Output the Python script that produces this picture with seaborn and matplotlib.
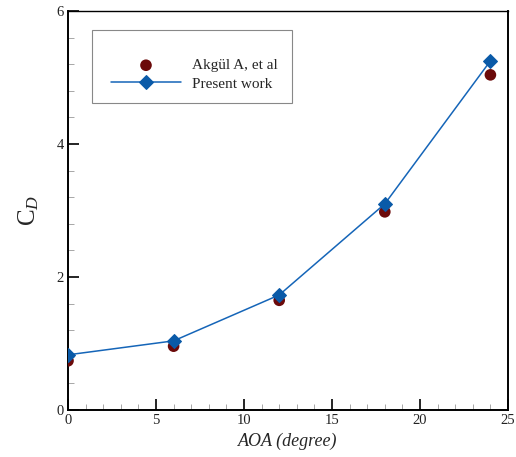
import matplotlib
matplotlib.use("Agg")
import matplotlib.pyplot as plt
import seaborn as sns
import pandas as pd
from matplotlib.patches import Rectangle
from matplotlib.ticker import MultipleLocator

aoa = [0, 6, 12, 18, 24]
cd_akgul = [0.74, 0.96, 1.65, 2.98, 5.04]
cd_present = [0.83, 1.04, 1.73, 3.10, 5.25]

sns.set_theme(style="ticks")
plt.rcParams['font.family'] = ['Liberation Serif', 'DejaVu Serif']
plt.rcParams['mathtext.fontset'] = 'custom'
plt.rcParams['mathtext.rm'] = 'Liberation Serif'
plt.rcParams['mathtext.it'] = 'Liberation Serif:italic'

df = pd.DataFrame({"aoa": aoa, "akgul": cd_akgul, "present": cd_present})

fig = plt.figure(figsize=(5.16, 4.57), dpi=100)
ax = fig.add_axes([0.1318, 0.1028, 0.8527, 0.8731])

sns.scatterplot(data=df, x="aoa", y="akgul", ax=ax, color="#6b0a0a", s=70,
                marker="o", edgecolor="none", label="Akgül A, et al", zorder=3)
sns.lineplot(data=df, x="aoa", y="present", ax=ax, color="#1565b8", lw=1.1,
             marker="D", markersize=7, markeredgecolor="#0a5aa8",
             markerfacecolor="#0a5aa8", label="Present work", zorder=4)

ax.set_xlim(0, 25)
ax.set_ylim(0, 6)
ax.xaxis.set_major_locator(MultipleLocator(5))
ax.xaxis.set_minor_locator(MultipleLocator(1))
ax.yaxis.set_major_locator(MultipleLocator(2))
ax.yaxis.set_minor_locator(MultipleLocator(0.4))
ax.tick_params(which="both", direction="in", top=False, right=False,
               labelsize=10.5, color="black", labelcolor="#222222")
ax.tick_params(which="major", length=8, width=1.2, pad=3)
ax.tick_params(which="minor", length=4, width=0.6, color="#999999")
for name, s in ax.spines.items():
    s.set_linewidth(1.4 if name in ("left", "bottom", "right") else 1.0)
    s.set_color("black")

ax.set_xlabel("AOA (degree)", fontsize=13, style="italic", labelpad=4)
ax.set_ylabel(r"$\mathrm{C}_{\mathit{D}}$", fontsize=18, labelpad=11)

ax.add_patch(Rectangle((0.055, 0.769), 0.454, 0.183, transform=ax.transAxes,
                       fill=False, edgecolor="#888888", lw=0.8, zorder=5))
ax.legend(loc="upper left", bbox_to_anchor=(0.08, 0.90), frameon=False,
          fontsize=11, handlelength=4.6, handletextpad=0.7, labelspacing=0.3,
          borderpad=0.0)

fig.savefig("out.png", dpi=100)
